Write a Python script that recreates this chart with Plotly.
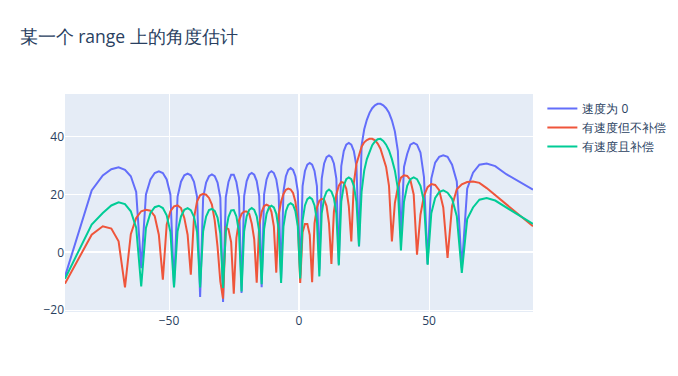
import plotly.graph_objects as go

angles = [
    -90, -79.74, -75.47, -72.18, -69.39, -66.93, -64.69, -62.62, -60.69, -58.87,
    -57.14, -55.49, -53.91, -52.37, -50.89, -49.46, -48.07, -46.71, -45.39, -44.11,
    -42.84, -41.61, -40.39, -39.20, -38.03, -36.87, -35.73, -34.61, -33.50, -32.41,
    -31.33, -30.26, -29.21, -28.16, -27.13, -26.10, -25.09, -24.08, -23.08, -22.09,
    -21.10, -20.12, -19.15, -18.18, -17.22, -16.26, -15.31, -14.36, -13.42, -12.47,
    -11.54, -10.60, -9.67, -8.74, -7.82, -6.89, -5.97, -5.05, -4.13, -3.21,
    -2.29, -1.38, -0.46,
    0.46, 1.38, 2.29, 3.21, 4.13, 5.05, 5.97, 6.89, 7.82, 8.74,
    9.67, 10.60, 11.54, 12.47, 13.42, 14.36, 15.31, 16.26, 17.22, 18.18,
    19.15, 20.12, 21.10, 22.09, 23.08, 24.08, 25.09, 26.10, 27.13, 28.16,
    29.21, 30.26, 31.33, 32.41, 33.50, 34.61, 35.73, 36.87, 38.03, 39.20,
    40.39, 41.61, 42.84, 44.11, 45.39, 46.71, 48.07, 49.46, 50.89, 52.37,
    53.91, 55.49, 57.14, 58.87, 60.69, 62.62, 64.69, 66.93, 69.39, 72.18,
    75.47, 79.74, 90,
]

speed_zero = [
    -8.3, 21.4, 26.6, 28.7, 29.4, 28.5, 26.3, 20.9, -5.5,
    20, 25.2, 27.4, 28.0, 27.4, 25.2, 20, -11.7,
    19.2, 24.4, 26.6, 27.2, 26.6, 24.4, 19.2, -15.4,
    18.9, 24.1, 26.3, 26.9, 26.3, 24.1, 18.9, -17.1,
    19, 24.3, 26.8, 26.8, 24.3, 19, -14,
    19.4, 24.6, 26.8, 27.4, 26.8, 24.6, 19.4, -12,
    20, 25.2, 27.4, 28.0, 27.4, 25.2, 20, -9,
    21.1, 26.3, 28.5, 29.1, 28.5, 26.3, 21.1, -8,
    22.9, 28.1, 30.3, 30.9, 30.3, 28.1, 22.9, -6,
    25.5, 30.7, 32.9, 33.5, 32.9, 30.7, 25.5, -4,
    29.8, 35, 37.2, 37.8, 37.2, 35, 29.8, 2,
    37, 42.5, 45.8, 48.2, 49.8, 50.8, 51.3, 51.3, 50.8, 49.8, 48.2, 45.6, 41.8, 35, 5,
    29.5, 34, 37.2, 37.8, 37.2, 34.5, 26, -4,
    25.5, 31, 33, 33.5, 33, 30.3, 24.5, -5.4,
    22, 27.5, 30.3, 30.7, 29.8, 27, 21.7,
]

speed_uncomp = [
    -10.8, 6.1, 9.0, 8.2, 3.8, -12.1, 6.3, 11.9, 14.2,
    14.7, 14.4, 12.5, 6.1, -9.4,
    9.6, 14.2, 15.9, 16.2, 15.3, 11.9, 6.1, -7.7,
    11.9, 17.6, 19.7, 20.2, 19.9, 18.8, 16.5, 11, 2, -10, -16,
    8.5, 8.0, 3.5, -14.3,
    5, 11, 13.3, 14.1, 14.1, 13.3, 10, 4.5, -10.5,
    9.5, 14, 16, 16.5, 16, 14, 9, -7,
    13, 17.5, 20.2, 21.6, 22, 21.7, 20.5, 17.5, 11, -10.6,
    7, 9.8, 9.8, 6, -10.3,
    10, 15.5, 17.8, 18.5, 18.2, 16, 10, -4,
    14, 20, 23, 24.3, 24, 22, 16, 3.8,
    24, 30.5, 34, 36.5, 38, 38.8, 39.2, 39.2, 38.7, 37.6, 35.8, 33, 29.5, 23, 3.8,
    17, 22.5, 25.8, 26.6, 26.4, 25, 20, -0.8,
    13, 19.5, 22.5, 23.6, 23.3, 21.5, 15.5, -1.9,
    16, 21.8, 23.5, 24.3, 24.5, 24, 22.2, 19.8, 16.5, 9.0,
]

speed_comp = [
    -9.1, 9.6, 13.6, 16.2, 17.3, 16.7, 14.2, 8.5, -11.8,
    8.4, 13.6, 15.6, 16.1, 15.3, 12.8, 7, -12.1,
    7.3, 12.4, 14.7, 15.3, 14.6, 12.3, 7, -12.1,
    7.3, 12.4, 14.6, 15.0, 14.3, 12, 6.5, -12.3,
    7, 12.2, 14.5, 14.6, 12.4, 7, -13.5,
    7.3, 12.5, 14.7, 15.3, 14.7, 12.5, 7.3, -11,
    8, 13.3, 15.5, 16.1, 15.5, 13.3, 8, -10.6,
    9, 14.2, 16.4, 17.0, 16.4, 14.2, 9, -9,
    11, 16.2, 18.4, 19.0, 18.4, 16.2, 11, -8.3,
    13.5, 18.8, 21, 21.7, 21, 18.8, 13.5, -4.5,
    17.5, 23, 25.3, 25.9, 25.3, 23, 17.5, 2.1,
    21, 28.3, 32.2, 35, 37, 38.3, 39.1, 39.2, 38.5, 37.2, 35.2, 32.2, 28.3, 22, 0.7,
    17.5, 23, 25.3, 25.9, 25.3, 23, 17.5, -4.3,
    13.5, 18.8, 20.8, 21.4, 20.6, 18.5, 12.5, -7.1,
    11.5, 15.5, 18.2, 18.8, 17.9, 15.6, 9.8,
]

series_names = ["速度为 0", "有速度但不补偿", "有速度且补偿"]
title_text = "某一个 range 上的角度估计"

fig = go.Figure()
for name, vals in zip(series_names, [speed_zero, speed_uncomp, speed_comp]):
    fig.add_trace(go.Scatter(x=angles, y=vals, mode="lines", name=name))

fig.update_layout(
    width=678,
    height=376,
    template="plotly",
    title=dict(text=title_text, x=0.029, xanchor="left", y=0.903, yanchor="middle",
               yref="container", font=dict(size=17.5)),
    margin=dict(l=65, r=145, t=94, b=64, autoexpand=False),
    yaxis=dict(range=[-20.6, 54.7]),
    xaxis=dict(range=[-90, 90]),
)

fig.write_html("out.html")
